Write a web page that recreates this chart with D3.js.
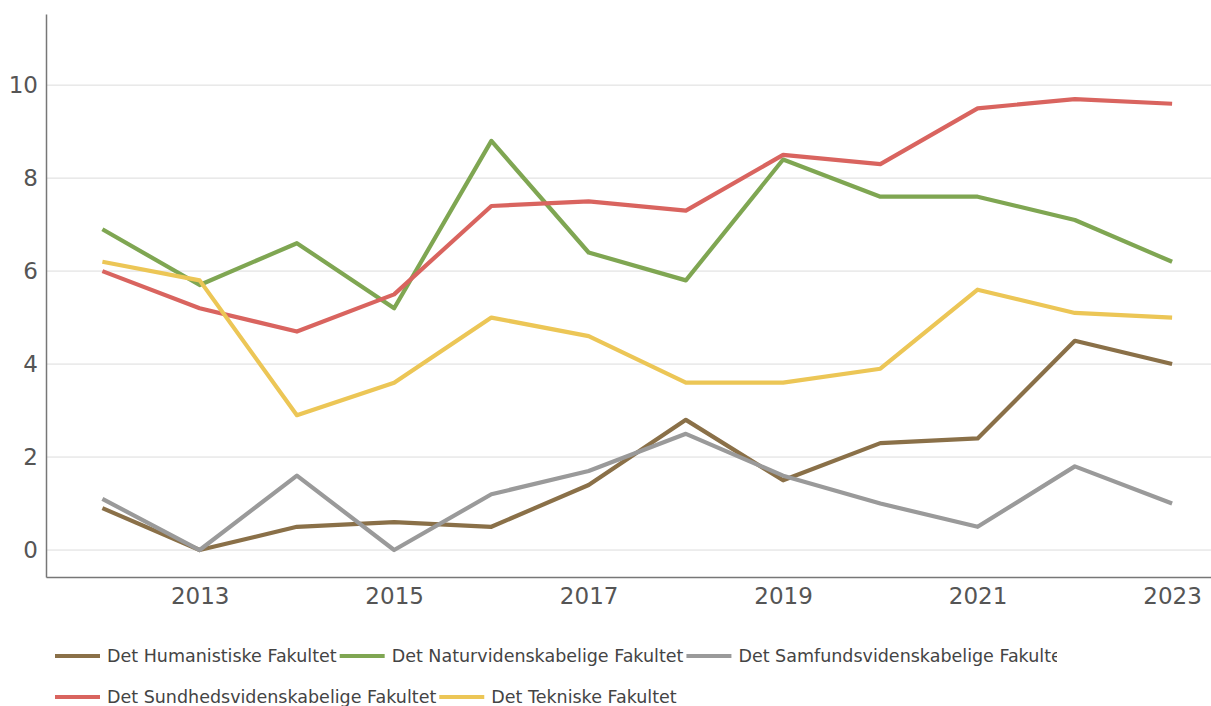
<!DOCTYPE html>
<html>
<head>
<meta charset="utf-8">
<script src="https://cdn.jsdelivr.net/npm/d3@7"></script>
<style>
  body { margin: 0; background: #fff; }
  text { font-family: "DejaVu Sans", Verdana, sans-serif; }
</style>
</head>
<body>
<script>
var years = [2012, 2013, 2014, 2015, 2016, 2017, 2018, 2019, 2020, 2021, 2022, 2023]

var humanistiske = [0.9, 0, 0.5, 0.6, 0.5, 1.4, 2.8, 1.5, 2.3, 2.4, 4.5, 4.0]
var natur        = [6.9, 5.7, 6.6, 5.2, 8.8, 6.4, 5.8, 8.4, 7.6, 7.6, 7.1, 6.2]
var samfund      = [1.1, 0, 1.6, 0, 1.2, 1.7, 2.5, 1.6, 1.0, 0.5, 1.8, 1.0]
var sundhed      = [6.0, 5.2, 4.7, 5.5, 7.4, 7.5, 7.3, 8.5, 8.3, 9.5, 9.7, 9.6]
var tekniske     = [6.2, 5.8, 2.9, 3.6, 5.0, 4.6, 3.6, 3.6, 3.9, 5.6, 5.1, 5.0]

var seriesNames = [
  "Det Humanistiske Fakultet",
  "Det Naturvidenskabelige Fakultet",
  "Det Samfundsvidenskabelige Fakultet",
  "Det Sundhedsvidenskabelige Fakultet",
  "Det Tekniske Fakultet"
]
var seriesValues = [humanistiske, natur, samfund, sundhed, tekniske]
var seriesColors = ["#8a7048", "#7fa652", "#9a9a9a", "#d9645f", "#ecc656"]

var xTicks = [2013, 2015, 2017, 2019, 2021, 2023]
var yTicks = [0, 2, 4, 6, 8, 10]

var w = 1211
var h = 706
var plotLeft = 46, plotRight = 1211, plotTop = 14, plotBottom = 577

var svg = d3.select("body").append("svg")
  .attr("width", w)
  .attr("height", h)

var x = d3.scaleLinear().domain([2011.42, 2023.4]).range([plotLeft, plotRight])
var y = d3.scaleLinear().domain([-0.58, 11.53]).range([plotBottom, plotTop])

// gridlines
svg.append("g")
  .selectAll("line")
  .data(yTicks)
  .enter()
  .append("line")
  .attr("x1", plotLeft)
  .attr("x2", plotRight)
  .attr("y1", function (d) { return y(d) })
  .attr("y2", function (d) { return y(d) })
  .attr("stroke", "#dcdcdc")
  .attr("stroke-width", 1)

// y axis
var yAxis = svg.append("g")
  .attr("transform", "translate(" + plotLeft + ",0)")
  .call(d3.axisLeft(y).tickValues(yTicks).tickSize(0).tickPadding(8))
yAxis.select(".domain").attr("stroke", "#777").attr("stroke-width", 1.5)
yAxis.selectAll("text")
  .attr("font-size", 23)
  .attr("fill", "#555")
  .style("font-family", "'DejaVu Sans', Verdana, sans-serif")

// x axis
var xAxis = svg.append("g")
  .attr("transform", "translate(0," + plotBottom + ")")
  .call(d3.axisBottom(x).tickValues(xTicks).tickFormat(d3.format("d")).tickSize(0).tickPadding(11))
xAxis.select(".domain").attr("stroke", "#777").attr("stroke-width", 1.5)
xAxis.selectAll("text")
  .attr("font-size", 23)
  .attr("fill", "#555")
  .style("font-family", "'DejaVu Sans', Verdana, sans-serif")

// lines
var line = d3.line()
  .x(function (d, i) { return x(years[i]) })
  .y(function (d) { return y(d) })

svg.append("g")
  .selectAll("path")
  .data(seriesValues)
  .enter()
  .append("path")
  .attr("d", line)
  .attr("fill", "none")
  .attr("stroke", function (d, i) { return seriesColors[i] })
  .attr("stroke-width", 4.2)
  .attr("stroke-linejoin", "round")

// legend
svg.append("clipPath").attr("id", "legclip")
  .append("rect").attr("x", 0).attr("y", 620).attr("width", 1057).attr("height", 90)

var legend = svg.append("g").attr("clip-path", "url(#legclip)")
var rows = [[0, 1, 2], [3, 4]]
var rowY = [656, 697]

rows.forEach(function (row, r) {
  var lx = 55
  row.forEach(function (si) {
    legend.append("line")
      .attr("x1", lx).attr("x2", lx + 45)
      .attr("y1", rowY[r]).attr("y2", rowY[r])
      .attr("stroke", seriesColors[si])
      .attr("stroke-width", 4)
    var t = legend.append("text")
      .attr("x", lx + 52)
      .attr("y", rowY[r] + 6)
      .attr("font-size", 17.5)
      .attr("fill", "#444")
      .text(seriesNames[si])
    lx = lx + 52 + t.node().getComputedTextLength() + 3
  })
})
</script>
</body>
</html>
